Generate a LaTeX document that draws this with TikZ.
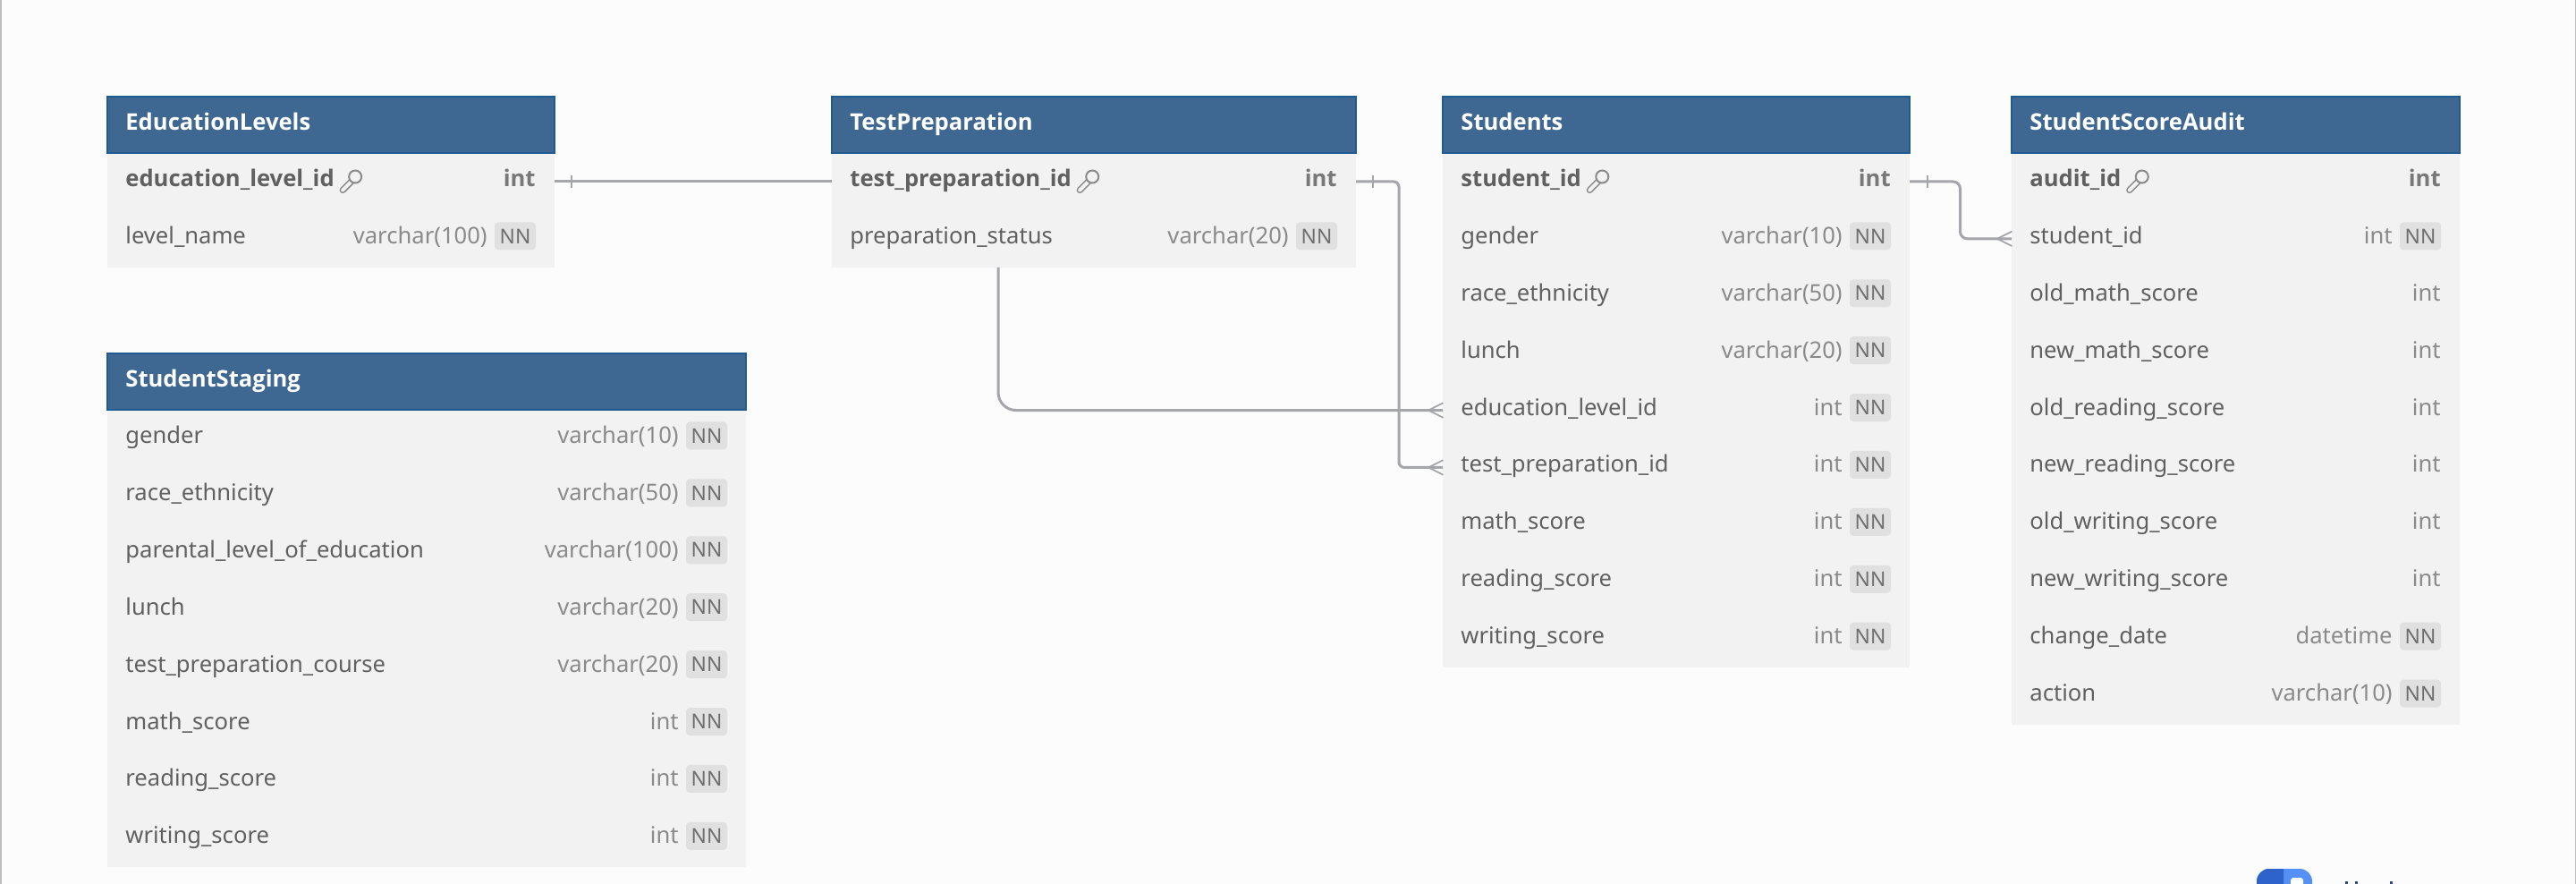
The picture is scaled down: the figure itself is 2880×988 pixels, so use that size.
\documentclass[tikz,border=0pt]{standalone}
\usepackage{fontspec}
\setmainfont{Noto Sans}
\newfontfamily\boldfam{Open Sans}
\definecolor{pagebg}{HTML}{FCFCFC}
\definecolor{edgegray}{HTML}{BDBDBD}
\definecolor{headfill}{HTML}{3E6791}
\definecolor{headedge}{HTML}{1F5A90}
\definecolor{bodyfill}{HTML}{F2F2F2}
\definecolor{labelcol}{HTML}{606060}
\definecolor{typecol}{HTML}{8A8A8A}
\definecolor{badgefill}{HTML}{E0E0E0}
\definecolor{badgetext}{HTML}{6E6E6E}
\definecolor{conncol}{HTML}{A5A5AC}
\definecolor{logodark}{HTML}{2F63CC}
\definecolor{logolight}{HTML}{5590F5}
\definecolor{logotext}{HTML}{2A4A8A}
\tikzset{
  x=0.5pt,y=-0.5pt,
  headbox/.style={draw=headedge,line width=1pt,fill=headfill,anchor=north west,inner sep=0pt,outer sep=0pt},
  bodybox/.style={fill=bodyfill,anchor=north west,inner sep=0pt,outer sep=0pt},
  rowbox/.style={anchor=north west,inner sep=0pt,outer sep=0pt},
  titletext/.style={anchor=base west,inner sep=0pt,text=white,font=\fontsize{12.8}{15}\boldfam\bfseries\selectfont},
  nametext/.style={anchor=base west,inner sep=0pt,text=labelcol,font=\fontsize{12.8}{15}\selectfont},
  pktext/.style={anchor=base west,inner sep=0pt,text=labelcol,font=\fontsize{12.8}{15}\boldfam\bfseries\selectfont},
  typetext/.style={anchor=base east,inner sep=0pt,text=typecol,font=\fontsize{12.8}{15}\selectfont},
  pktype/.style={anchor=base east,inner sep=0pt,text=labelcol!85!white,font=\fontsize{12.8}{15}\boldfam\bfseries\selectfont},
  badge/.style={fill=badgefill,rounded corners=2pt,anchor=center,inner sep=0pt,minimum width=23pt,minimum height=15.5pt,text=badgetext,font=\fontsize{11.4}{14}\selectfont},
  conn/.style={draw=conncol,line width=1.5pt},
  thinconn/.style={draw=conncol,line width=0.9pt},
  keyline/.style={line cap=round}
}
\newcommand{\ertable}[6]{% name, left, top, width, rows, title
  \def\curname{#1}\def\curx{#2}\def\curtop{#3}\def\curw{#4}
  \pgfmathsetmacro{\curh}{#5*31.95}
  \node[bodybox,minimum width=#4*0.5pt,minimum height=\curh pt] (#1-body) at (#2,#3+63) {};
  \node[headbox,minimum width=#4*0.5pt,minimum height=31.5pt] (#1-head) at (#2,#3) {};
  \node[titletext] (#1-title) at (#2+20,#3+37.5) {#6};
}
\newcommand{\errow}[5]{% index, label, type, nn flag (1/0), pk flag (1/0)
  \pgfmathsetmacro{\rowtop}{\curtop+63+(#1-1)*63.9}
  \node[rowbox,minimum width=\curw*0.5pt,minimum height=31.95pt] (\curname#1) at (\curx,\rowtop) {};
  \ifnum#5=1
    \node[pktext] (\curname#1-name) at (\curx+20,\rowtop+37.5) {#2};
    \node[pktype] (\curname#1-type) at (\curx+\curw-21,\rowtop+37.5) {#3};
    \begin{scope}[shift={(\curname#1-name.base east)}]
      \draw[keyline,draw=typecol,line width=3.6pt] (9,4) -- (19,-6);
      \draw[keyline,draw=bodyfill,line width=2pt] (9,4) -- (19,-6);
      \draw[draw=typecol,line width=1pt,fill=bodyfill] (23,-11) circle[radius=7];
    \end{scope}
  \else
    \node[nametext] (\curname#1-name) at (\curx+20,\rowtop+37.5) {#2};
    \ifnum#4=1
      \node[badge] (\curname#1-nn) at (\curx+\curw-44,\rowtop+29) {NN};
      \node[typetext] (\curname#1-type) at (\curx+\curw-75,\rowtop+37.5) {#3};
    \else
      \node[typetext] (\curname#1-type) at (\curx+\curw-21,\rowtop+37.5) {#3};
    \fi
  \fi
}
\newcommand{\crowfoot}[1]{%
  \draw[thinconn,line cap=round] ([xshift=-8pt]#1.west) -- ([yshift=4pt]#1.west);
  \draw[thinconn,line cap=round] ([xshift=-8pt]#1.west) -- ([yshift=-4pt]#1.west);
}
\begin{document}
\begin{tikzpicture}
\useasboundingbox (0,0) rectangle (2880,988);
\fill[pagebg] (0,0) rectangle (2880,988);
\fill[edgegray] (0,0) rectangle (2,988);
\fill[edgegray] (2879,0) rectangle (2880,988);

\ertable{edu}{120}{108}{500}{2}{EducationLevels}
\errow{1}{education\_level\_id}{int}{0}{1}
\errow{2}{level\_name}{varchar(100)}{1}{0}

\ertable{tp}{930}{108}{586}{2}{TestPreparation}
\errow{1}{test\_preparation\_id}{int}{0}{1}
\errow{2}{preparation\_status}{varchar(20)}{1}{0}

\ertable{st}{1613}{108}{522}{9}{Students}
\errow{1}{student\_id}{int}{0}{1}
\errow{2}{gender}{varchar(10)}{1}{0}
\errow{3}{race\_ethnicity}{varchar(50)}{1}{0}
\errow{4}{lunch}{varchar(20)}{1}{0}
\errow{5}{education\_level\_id}{int}{1}{0}
\errow{6}{test\_preparation\_id}{int}{1}{0}
\errow{7}{math\_score}{int}{1}{0}
\errow{8}{reading\_score}{int}{1}{0}
\errow{9}{writing\_score}{int}{1}{0}

\ertable{au}{2249}{108}{501}{10}{StudentScoreAudit}
\errow{1}{audit\_id}{int}{0}{1}
\errow{2}{student\_id}{int}{1}{0}
\errow{3}{old\_math\_score}{int}{0}{0}
\errow{4}{new\_math\_score}{int}{0}{0}
\errow{5}{old\_reading\_score}{int}{0}{0}
\errow{6}{new\_reading\_score}{int}{0}{0}
\errow{7}{old\_writing\_score}{int}{0}{0}
\errow{8}{new\_writing\_score}{int}{0}{0}
\errow{9}{change\_date}{datetime}{1}{0}
\errow{10}{action}{varchar(10)}{1}{0}

\ertable{sg}{120}{395}{714}{8}{StudentStaging}
\errow{1}{gender}{varchar(10)}{1}{0}
\errow{2}{race\_ethnicity}{varchar(50)}{1}{0}
\errow{3}{parental\_level\_of\_education}{varchar(100)}{1}{0}
\errow{4}{lunch}{varchar(20)}{1}{0}
\errow{5}{test\_preparation\_course}{varchar(20)}{1}{0}
\errow{6}{math\_score}{int}{1}{0}
\errow{7}{reading\_score}{int}{1}{0}
\errow{8}{writing\_score}{int}{1}{0}

% connectors
\draw[conn] (edu1.east) -- (tp1.west);
\draw[thinconn] ([xshift=9.5pt,yshift=-3.5pt]edu1.east) -- ([xshift=9.5pt,yshift=3.5pt]edu1.east);

\draw[conn,rounded corners=3pt] (tp1.east) -- ++(48,0) |- (st6.west);
\draw[thinconn] ([xshift=9.5pt,yshift=-3.5pt]tp1.east) -- ([xshift=9.5pt,yshift=3.5pt]tp1.east);
\crowfoot{st6}

\draw[conn,rounded corners=10pt] ([xshift=93pt]tp2.south west) |- (st5.west);
\crowfoot{st5}

\draw[conn,rounded corners=4pt] (st1.east) -- ++(56.5,0) |- (au2.west);
\draw[thinconn] ([xshift=10pt,yshift=-3.5pt]st1.east) -- ([xshift=10pt,yshift=3.5pt]st1.east);
\crowfoot{au2}

% logo clipped by the page
\begin{scope}
  \clip (2400,960) rectangle (2880,988);
  \fill[logolight,rounded corners=7pt] (2523,971) rectangle (2585,1030);
  \begin{scope}
    \clip (2523,960) rectangle (2553,988);
    \fill[logodark,rounded corners=7pt] (2523,971) rectangle (2585,1030);
  \end{scope}
  \fill[white,rounded corners=1.5pt] (2561,981) rectangle (2575,1000);
  \fill[logotext] (2622,985) rectangle (2625,988);
  \fill[logotext] (2633,985) rectangle (2636,988);
  \fill[logotext] (2672,985) rectangle (2675,988);
\end{scope}
\end{tikzpicture}
\end{document}
